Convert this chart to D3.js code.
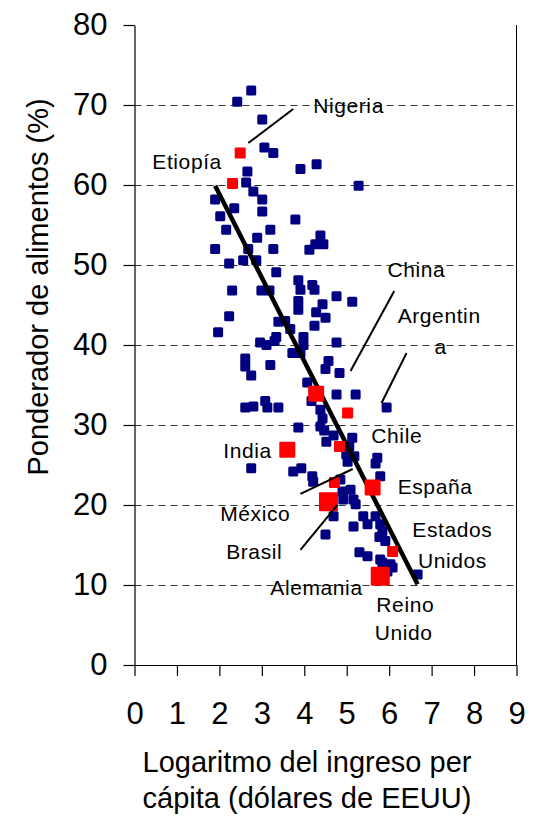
<!DOCTYPE html>
<html>
<head>
<meta charset="utf-8">
<script src="https://cdn.jsdelivr.net/npm/d3@7"></script>
<style>
html,body{margin:0;padding:0;background:#fff;}
svg{display:block;}
text{font-family:"Liberation Sans",Arial,sans-serif;fill:#000;}
</style>
</head>
<body>
<svg id="chart" width="537" height="816"></svg>
<script>
// ---- data ----
const blueX = [2.42,2.75,3.01,3.06,3.27,3.91,4.29,5.28,2.66,2.63,
  2.80,3.01,3.01,1.90,2.35,2.02,3.79,2.16,3.20,2.89,
  4.38,4.26,4.45,4.12,1.90,2.68,3.27,2.23,2.56,2.87,
  3.34,3.86,4.19,3.91,4.24,2.30,2.99,3.18,4.76,5.13,
  3.86,4.43,3.86,4.28,4.50,2.23,3.39,3.55,3.67,4.24,
  1.97,3.34,2.96,3.11,3.30,3.98,3.98,4.76,3.72,3.91,
  2.61,2.61,2.75,3.20,4.57,4.50,4.83,4.07,4.17,4.76,
  5.21,5.94,3.08,3.13,3.39,2.61,2.80,4.38,4.43,4.38,
  4.47,3.86,4.69,5.13,4.52,5.06,4.99,5.18,5.02,5.72,
  5.68,3.74,3.93,4.19,4.21,5.79,2.75,4.85,4.90,5.09,
  4.92,5.16,5.21,4.69,5.39,5.68,5.49,5.79,5.16,5.84,
  5.77,5.91,4.50,5.30,5.49,5.79,6.03,5.84,5.96,6.08,6.67];
const blueY = [70.4,71.8,68.2,64.7,64.0,62.0,62.6,59.9,61.7,60.3,
  59.2,58.2,56.7,58.2,57.1,56.1,55.7,54.4,54.4,53.4,
  53.7,52.6,52.6,51.9,52.0,52.0,52.0,50.2,50.6,50.6,
  49.1,48.1,47.5,46.9,46.9,46.8,46.8,46.8,46.1,45.4,
  45.5,45.1,44.4,44.1,43.4,43.6,42.9,43.0,42.0,42.4,
  41.6,41.0,40.3,40.0,40.5,41.0,40.0,40.3,39.0,39.0,
  38.3,37.3,36.2,37.5,38.0,37.0,36.5,35.3,33.0,33.8,
  33.8,32.2,33.0,32.2,32.2,32.2,32.3,31.9,30.8,29.8,
  29.3,29.7,28.7,28.4,27.9,27.3,26.3,26.1,25.4,25.9,
  25.2,24.2,24.6,23.6,22.9,23.6,24.6,23.2,21.7,21.9,
  20.7,20.7,20.1,18.6,18.6,18.6,17.6,17.6,17.3,16.7,
  16.0,15.5,16.3,14.1,13.6,13.2,12.6,12.8,11.7,12.2,11.3];

// highlighted countries (red)
const redX = [2.49, 2.31, 5.02, 4.83, 4.71, 6.08, 3.60, 4.28, 5.61, 4.57, 5.79];
const redY = [64.0, 60.2, 31.5, 27.3, 22.8, 14.2, 26.9, 33.9, 22.2, 20.4, 11.1];
const redClass = [1, 1, 1, 1, 1, 1, 2, 2, 2, 3, 3];

// regression line end points
const trendX = [1.90, 6.67];
const trendY = [59.9, 10.1];

// annotation labels: text, x, y (data units), anchor
const labelText = ["Nigeria","Etiopía","China","Argentin","a","Chile","India","España","México","Brasil","Estados","Unidos","Alemania","Reino","Unido"];
const labelX = [4.21, 0.42, 5.96, 6.20, 7.07, 5.58, 2.09, 6.20, 2.02, 2.16, 7.49, 7.49, 3.20, 6.38, 6.34];
const labelY = [69.0, 62.0, 48.5, 42.75, 38.9, 27.75, 25.9, 21.4, 18.0, 13.25, 16.0, 12.1, 8.75, 6.6, 3.1];
const labelAnchor = ["start","start","start","start","start","start","start","start","start","start","middle","middle","start","middle","middle"];

// leader lines: x1,y1,x2,y2 in data units
const leadX1 = [2.68, 5.09, 5.82, 3.91, 3.91];
const leadY1 = [65.25, 36.75, 32.75, 21.4, 14.4];
const leadX2 = [3.74, 6.12, 6.41, 5.14, 4.78];
const leadY2 = [69.5, 46.75, 39.0, 24.5, 20.0];

const xTicks = [0,1,2,3,4,5,6,7,8,9];
const yTicks = [0,10,20,30,40,50,60,70,80];
const gridTicks = [10,20,30,40,50,60,70];

const xTitle = ["Logaritmo del ingreso per", "cápita (dólares de EEUU)"];
const yTitle = "Ponderador de alimentos (%)";

// ---- chart ----
const svg = d3.select("#chart");
const x = d3.scaleLinear().domain([0, 9]).range([134.5, 516.5]);
const y = d3.scaleLinear().domain([0, 80]).range([665, 25]);

// gridlines
svg.append("g").selectAll("line").data(gridTicks).join("line")
  .attr("x1", x(0)).attr("x2", x(9))
  .attr("y1", d => Math.round(y(d)) + 0.5).attr("y2", d => Math.round(y(d)) + 0.5)
  .attr("stroke", "#333").attr("stroke-width", 1).attr("stroke-dasharray", "7,5");

// right border
svg.append("line").attr("x1", x(9)).attr("x2", x(9)).attr("y1", y(0)).attr("y2", y(80))
  .attr("stroke", "#000").attr("stroke-width", 1);

// axes
const yAxis = svg.append("g").attr("transform", `translate(${x(0)},0)`)
  .call(d3.axisLeft(y).tickValues(yTicks).tickSize(11).tickPadding(16).tickSizeOuter(0));
const xAxis = svg.append("g").attr("transform", `translate(0,${y(0)})`)
  .call(d3.axisBottom(x).tickValues(xTicks).tickSize(11).tickPadding(26).tickSizeOuter(0));
[yAxis, xAxis].forEach(g => {
  g.select(".domain").attr("stroke", "#000").attr("stroke-width", 1.2);
  g.selectAll(".tick line").attr("stroke", "#000").attr("stroke-width", 1.2);
  g.selectAll(".tick text").attr("font-family", "Liberation Sans, Arial, sans-serif")
    .attr("font-size", 31).attr("fill", "#000");
});

// blue points
const blueSize = 10;
svg.append("g").selectAll("rect").data(d3.range(blueX.length)).join("rect")
  .attr("x", i => x(blueX[i]) - blueSize / 2).attr("y", i => y(blueY[i]) - blueSize / 2)
  .attr("width", blueSize).attr("height", blueSize).attr("rx", 1.5)
  .attr("fill", "#000080");

// regression line
svg.append("line")
  .attr("x1", x(trendX[0])).attr("y1", y(trendY[0]))
  .attr("x2", x(trendX[1])).attr("y2", y(trendY[1]))
  .attr("stroke", "#000").attr("stroke-width", 4.5);

// red points
const redSizeMap = {1: 11, 2: 16, 3: 19};
svg.append("g").selectAll("rect").data(d3.range(redX.length)).join("rect")
  .attr("x", i => x(redX[i]) - redSizeMap[redClass[i]] / 2)
  .attr("y", i => y(redY[i]) - redSizeMap[redClass[i]] / 2)
  .attr("width", i => redSizeMap[redClass[i]]).attr("height", i => redSizeMap[redClass[i]])
  .attr("rx", 1).attr("fill", "#ff0000");

// leader lines
svg.append("g").selectAll("line").data(d3.range(leadX1.length)).join("line")
  .attr("x1", i => x(leadX1[i])).attr("y1", i => y(leadY1[i]))
  .attr("x2", i => x(leadX2[i])).attr("y2", i => y(leadY2[i]))
  .attr("stroke", "#000").attr("stroke-width", 2);

// labels
svg.append("g").selectAll("text").data(d3.range(labelText.length)).join("text")
  .attr("x", i => x(labelX[i])).attr("y", i => y(labelY[i]))
  .attr("text-anchor", i => labelAnchor[i])
  .attr("font-size", 21).attr("letter-spacing", 0.6)
  .text(i => labelText[i]);

// axis titles
svg.append("g").selectAll("text").data(xTitle).join("text")
  .attr("x", 307).attr("y", (d, i) => 772 + i * 36)
  .attr("text-anchor", "middle").attr("font-size", 29)
  .text(d => d);

svg.append("text")
  .attr("transform", "translate(48,287) rotate(-90)")
  .attr("text-anchor", "middle").attr("font-size", 29)
  .text(yTitle);
</script>
</body>
</html>
